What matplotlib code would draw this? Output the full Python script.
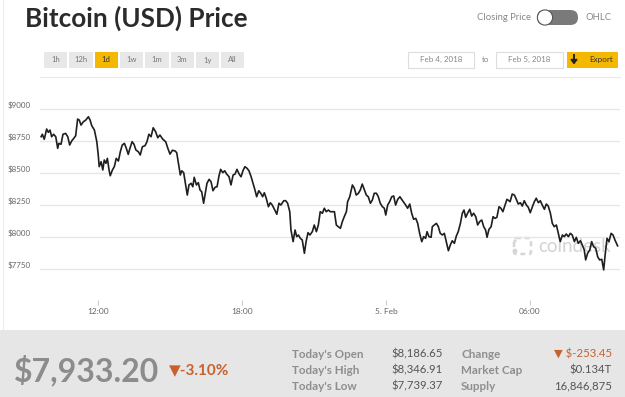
import matplotlib
matplotlib.use('agg')
import matplotlib.pyplot as plt
from matplotlib.patches import Rectangle, Circle, FancyBboxPatch

plt.rcParams['font.family'] = ['Lato', 'DejaVu Sans']

# hours since Feb 4 2018 00:00
hours = [9.63, 9.68, 9.76, 9.86, 9.93, 10.00, 10.07, 10.15, 10.24, 10.32,
         10.37, 10.46, 10.54, 10.65, 10.74, 10.82, 10.90, 10.99, 11.07, 11.15,
         11.22, 11.29, 11.39, 11.49, 11.60, 11.67, 11.74, 11.85, 11.95, 12.01,
         12.05, 12.13, 12.20, 12.26, 12.33, 12.39, 12.46, 12.51, 12.60, 12.68,
         12.76, 12.85, 12.93, 13.01, 13.10, 13.18, 13.26, 13.33, 13.42, 13.50,
         13.58, 13.68, 13.76, 13.85, 13.96, 14.04, 14.12, 14.21, 14.30, 14.40,
         14.49, 14.58, 14.70, 14.82, 14.92, 15.00, 15.10, 15.21, 15.28, 15.35,
         15.43, 15.49, 15.57, 15.65, 15.72, 15.79, 15.88, 15.95, 16.01, 16.10,
         16.18, 16.25, 16.32, 16.40, 16.47, 16.54, 16.63, 16.71, 16.79, 16.88,
         16.96, 17.04, 17.11, 17.20, 17.28, 17.36, 17.46, 17.54, 17.63, 17.71,
         17.79, 17.88, 17.96, 18.04, 18.12, 18.21, 18.29, 18.38, 18.46, 18.54,
         18.61, 18.70, 18.78, 18.86, 18.93, 19.01, 19.10, 19.18, 19.26, 19.35,
         19.45, 19.54, 19.62, 19.74, 19.82, 19.90, 19.99, 20.04, 20.13, 20.21,
         20.28, 20.35, 20.43, 20.51, 20.60, 20.67, 20.75, 20.83, 20.93, 21.01,
         21.10, 21.18, 21.26, 21.35, 21.43, 21.51, 21.60, 21.68, 21.76, 21.85,
         21.93, 22.01, 22.10, 22.18, 22.26, 22.35, 22.40, 22.49, 22.60, 22.68,
         22.76, 22.85, 22.93, 23.01, 23.10, 23.18, 23.26, 23.35, 23.43, 23.51,
         23.60, 23.68, 23.76, 23.85, 23.93, 23.99, 24.07, 24.15, 24.24, 24.32,
         24.40, 24.49, 24.58, 24.62, 24.72, 24.82, 24.90, 24.99, 25.07, 25.15,
         25.24, 25.32, 25.40, 25.49, 25.57, 25.65, 25.71, 25.79, 25.88, 25.93,
         26.01, 26.10, 26.18, 26.26, 26.35, 26.43, 26.51, 26.60, 26.68, 26.76,
         26.85, 26.93, 27.01, 27.10, 27.18, 27.25, 27.32, 27.40, 27.49, 27.57,
         27.65, 27.74, 27.82, 27.90, 27.99, 28.07, 28.15, 28.21, 28.29, 28.38,
         28.46, 28.54, 28.62, 28.71, 28.79, 28.87, 28.96, 29.04, 29.12, 29.17,
         29.26, 29.35, 29.43, 29.51, 29.60, 29.68, 29.76, 29.85, 29.93, 30.01,
         30.10, 30.18, 30.26, 30.35, 30.43, 30.51, 30.60, 30.68, 30.76, 30.85,
         30.93, 31.01, 31.10, 31.18, 31.26, 31.35, 31.43, 31.51, 31.60, 31.68,
         31.76, 31.85, 31.93, 32.01, 32.10, 32.18, 32.26, 32.32, 32.40, 32.49,
         32.57, 32.65, 32.74, 32.82, 32.90, 32.99, 33.07, 33.13, 33.21, 33.29,
         33.38, 33.46, 33.54, 33.65]

price = [8786, 8805, 8766, 8846, 8820, 8838, 8786, 8805, 8786, 8695,
         8734, 8727, 8805, 8812, 8786, 8721, 8752, 8773, 8794, 8924,
         8916, 8877, 8903, 8916, 8942, 8916, 8872, 8838, 8747, 8643,
         8552, 8591, 8526, 8604, 8578, 8617, 8526, 8481, 8526, 8552,
         8617, 8596, 8669, 8721, 8734, 8695, 8648, 8695, 8747, 8727,
         8682, 8669, 8643, 8708, 8716, 8747, 8805, 8786, 8856, 8825,
         8778, 8799, 8766, 8747, 8690, 8650, 8680, 8675, 8661, 8578,
         8487, 8520, 8505, 8409, 8330, 8409, 8422, 8395, 8469, 8409,
         8427, 8370, 8356, 8266, 8344, 8422, 8453, 8434, 8364, 8391,
         8395, 8479, 8531, 8505, 8520, 8494, 8473, 8409, 8487, 8494,
         8531, 8494, 8473, 8520, 8552, 8539, 8520, 8473, 8422, 8370,
         8317, 8364, 8344, 8317, 8348, 8305, 8239, 8270, 8252, 8219,
         8180, 8266, 8252, 8286, 8286, 8266, 8200, 8057, 7966, 8057,
         8005, 8018, 7992, 7979, 7875, 7966, 8036, 8018, 8044, 8096,
         8044, 8096, 8200, 8188, 8227, 8200, 8213, 8200, 8200, 8200,
         8096, 8083, 8070, 8122, 8161, 8200, 8278, 8317, 8409, 8383,
         8330, 8344, 8370, 8416, 8370, 8330, 8317, 8266, 8291, 8344,
         8344, 8317, 8266, 8239, 8227, 8174, 8252, 8278, 8317, 8323,
         8252, 8297, 8317, 8305, 8278, 8252, 8227, 8260, 8188, 8141,
         8148, 8109, 8031, 7966, 8005, 7992, 8044, 8005, 8000, 8083,
         8096, 8109, 8083, 8031, 8018, 8031, 7966, 7895, 7940, 7973,
         7953, 8010, 8044, 8109, 8188, 8213, 8156, 8188, 8219, 8166,
         8188, 8161, 8096, 8122, 8135, 8083, 8057, 8000, 8062, 8083,
         8161, 8148, 8156, 8239, 8227, 8200, 8252, 8297, 8286, 8278,
         8338, 8330, 8297, 8260, 8270, 8244, 8286, 8252, 8234, 8192,
         8239, 8278, 8305, 8270, 8286, 8252, 8219, 8260, 8244, 8188,
         8109, 8083, 8096, 8031, 7966, 8018, 8005, 8026, 8005, 8031,
         8018, 7966, 8000, 7953, 7973, 7940, 7901, 7823, 7875, 7901,
         7966, 7927, 7914, 7848, 7823, 7828, 7745, 7862, 7992, 7966,
         8031, 8018, 7979, 7933]

yticks = [7750, 8000, 8250, 8500, 8750, 9000]
xticks = [12, 18, 24, 30]
xtick_labels = ['12:00', '18:00', '5. Feb', '06:00']
ranges = ['1h', '12h', '1d', '1w', '1m', '3m', '1y', 'All']
active = '1d'
date_from = 'Feb 4, 2018'
date_to = 'Feb 5, 2018'
last_price = '$7,933.20'
pct_change = '▼-3.10%'
left_labels = ["Today's Open", "Today's High", "Today's Low"]
left_values = ['$8,186.65', '$8,346.91', '$7,739.37']
right_labels = ['Change', 'Market Cap', 'Supply']
right_values = ['▼ $-253.45', '$0.134T', '16,846,875']

fig = plt.figure(figsize=(6.25, 3.97), dpi=100)

# page chrome in pixel coordinates
ui = fig.add_axes([0, 0, 1, 1])
ui.set_xlim(0, 625)
ui.set_ylim(397, 0)
ui.axis('off')

ui.plot([2.5, 2.5], [0, 330], color='#ececec', lw=0.8)
ui.text(25, 18, 'Bitcoin (USD) Price', fontsize=18.8, fontweight='bold',
        color='#2b2b2b', va='center')

for i, r in enumerate(ranges):
    x0 = 44 + i * 25.3
    fc = '#f5b800' if r == active else '#e8e8e8'
    ui.add_patch(Rectangle((x0, 52), 23.3, 15.5, fc=fc, ec='none'))
    ui.text(x0 + 11.65, 60, r, fontsize=5.5, color='#333' if r == active else '#777',
            ha='center', va='center')

ui.plot([40, 620], [76.5, 76.5], color='#e9e9e9', lw=0.8)

# closing price / OHLC toggle
ui.text(531, 18, 'Closing Price', fontsize=6.8, color='#888', ha='right', va='center')
ui.add_patch(FancyBboxPatch((537, 10), 41, 15, boxstyle='round,pad=0,rounding_size=7.5',
                            fc='#7a7a7a', ec='none'))
ui.add_patch(Circle((545, 17.5), 7.6, fc='white', ec='#555', lw=0.8))
ui.text(585, 18, 'OHLC', fontsize=6.8, color='#888', ha='left', va='center')

# date range boxes
ui.add_patch(Rectangle((408, 51.5), 66, 16, fc='white', ec='#dddddd', lw=0.8))
ui.text(441, 59.5, date_from, fontsize=5.8, color='#888', ha='center', va='center')
ui.text(485.5, 59.5, 'to', fontsize=5.8, color='#888', ha='center', va='center')
ui.add_patch(Rectangle((496, 51.5), 67, 16, fc='white', ec='#dddddd', lw=0.8))
ui.text(529.5, 59.5, date_to, fontsize=5.8, color='#888', ha='center', va='center')
ui.add_patch(Rectangle((567, 51.5), 51, 16, fc='#f5b800', ec='none'))
ui.plot([574, 574], [55, 60], color='#222', lw=1.4)
ui.fill([571, 577, 574], [59.5, 59.5, 63.5], color='#222')
ui.text(601, 59.5, 'Export', fontsize=5.8, color='#333', ha='center', va='center')

# coindesk watermark
ui.add_patch(FancyBboxPatch((514, 238), 17, 16, boxstyle='round,pad=0,rounding_size=2',
                            fc='none', ec='#d6d6d6', lw=1.8, ls=(0, (2, 1.5))))
ui.add_patch(Circle((515, 251), 2.4, fc='#d6d6d6', ec='none'))
ui.add_patch(Circle((515, 241), 1.6, fc='#d6d6d6', ec='none'))
ui.text(538, 246, 'coindesk', fontsize=13.5, color='#d3d3d3', ha='left', va='center')

# bottom stats panel
ui.add_patch(Rectangle((0, 330), 625, 67, fc='#e6e6e6', ec='none'))
ui.text(14, 370, last_price, fontsize=23, fontweight='bold', color='#8c8c8c', va='center')
ui.text(169, 370, pct_change, fontsize=11, fontweight='bold', color='#c8622c', va='center')
for i in range(3):
    y = 354 + i * 16
    ui.text(292, y, left_labels[i], fontsize=8.4, fontweight='bold', color='#8e8e8e', va='center')
    ui.text(443, y, left_values[i], fontsize=8.2, color='#555', ha='right', va='center')
    ui.text(461, y, right_labels[i], fontsize=8.4, fontweight='bold', color='#8e8e8e', va='center')
    ui.text(612, y, right_values[i], fontsize=8.2, ha='right', va='center',
            color='#c8622c' if i == 0 else '#555')

# price chart
ax = fig.add_axes([40 / 625, 97 / 397, 580 / 625, 205 / 397])
ax.patch.set_alpha(0)
ax.plot(hours, price, color='#1f1f1f', lw=1.2, zorder=3)
ax.set_xlim(9.583, 33.75)
ax.set_ylim(7510, 9112)
for s in ax.spines.values():
    s.set_visible(False)
ax.set_yticks(yticks, labels=['$%d' % v for v in yticks])
ax.set_xticks(xticks, labels=xtick_labels)
ax.grid(axis='y', color='#e6e6e6', lw=0.9)
ax.tick_params(axis='y', length=0, pad=6.5, labelsize=5.8, labelcolor='#666')
ax.tick_params(axis='x', length=3.5, width=0.7, color='#c8c8c8', labelsize=6,
               labelcolor='#666', pad=2)
for lbl in ax.get_yticklabels():
    lbl.set_va('bottom')

fig.savefig('out.png', dpi=100)
